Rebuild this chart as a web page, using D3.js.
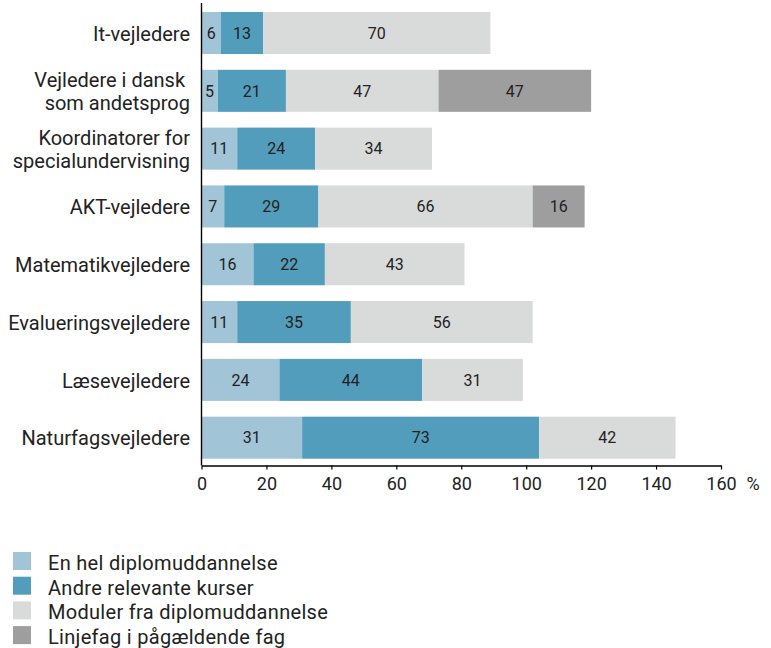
<!DOCTYPE html>
<html>
<head>
<meta charset="utf-8">
<script src="https://cdn.jsdelivr.net/npm/d3@7"></script>
<style>
  html, body { margin: 0; padding: 0; background: #fff; }
  svg { display: block; font-family: Roboto, "DejaVu Sans", sans-serif; }
</style>
</head>
<body>
<svg id="chart" width="771" height="648"></svg>
<script>
// ---- data ----
const categories = [
  "It-vejledere",
  "Vejledere i dansk som andetsprog",
  "Koordinatorer for specialundervisning",
  "AKT-vejledere",
  "Matematikvejledere",
  "Evalueringsvejledere",
  "Læsevejledere",
  "Naturfagsvejledere"
];
const categoryLines = [
  ["It-vejledere"],
  ["Vejledere i dansk ", "som andetsprog"],
  ["Koordinatorer for", "specialundervisning"],
  ["AKT-vejledere"],
  ["Matematikvejledere"],
  ["Evalueringsvejledere"],
  ["Læsevejledere"],
  ["Naturfagsvejledere"]
];
const seriesNames = [
  "En hel diplomuddannelse",
  "Andre relevante kurser",
  "Moduler fra diplomuddannelse",
  "Linjefag i pågældende fag"
];
const helDiplom   = [6, 5, 11, 7, 16, 11, 24, 31];
const andreKurser = [13, 21, 24, 29, 22, 35, 44, 73];
const moduler     = [70, 47, 36, 66, 43, 56, 31, 42];   // bar lengths as drawn
const modulerText = [70, 47, 34, 66, 43, 56, 31, 42];   // printed labels
const linjefag    = [0, 47, 0, 16, 0, 0, 0, 0];
const xTicks = [0, 20, 40, 60, 80, 100, 120, 140, 160];
const colors = ["#a1c4d7", "#529dbb", "#d9dbda", "#9e9e9e"];

// ---- layout ----
const svg = d3.select("#chart");
const x = d3.scaleLinear().domain([0, 160]).range([201.5, 721]);
const y = d3.scaleBand().domain(categories).range([4.1, 466.6])
  .paddingInner(0.273).paddingOuter(0.1365);
const axisY = 465.5;

const values = [helDiplom, andreKurser, moduler, linjefag];
const texts = [helDiplom, andreKurser, modulerText, linjefag];

const rows = categories.map((c, i) => {
  const o = { cat: c };
  seriesNames.forEach((s, k) => o[s] = values[k][i]);
  return o;
});
const stacked = d3.stack().keys(seriesNames)(rows);

stacked.forEach((layer, k) => {
  const g = svg.append("g");
  layer.forEach((d, i) => {
    const v = values[k][i];
    if (!v) return;
    g.append("rect")
      .attr("x", x(d[0]))
      .attr("y", y(categories[i]))
      .attr("width", x(d[1]) - x(d[0]))
      .attr("height", y.bandwidth())
      .attr("fill", colors[k]);
    g.append("text")
      .attr("x", (x(d[0]) + x(d[1])) / 2)
      .attr("y", y(categories[i]) + y.bandwidth() / 2)
      .attr("dy", "0.36em")
      .attr("text-anchor", "middle")
      .attr("font-size", 16)
      .attr("fill", "#222")
      .text(texts[k][i]);
  });
});

// x axis
const xAxis = d3.axisBottom(x).tickValues(xTicks).tickSize(4).tickSizeOuter(0).tickPadding(7.5);
const gx = svg.append("g").attr("transform", `translate(0,${axisY})`).call(xAxis);
gx.select(".domain").attr("stroke", "#000").attr("stroke-width", 1.4);
gx.selectAll(".tick line").attr("stroke", "#000").attr("stroke-width", 1.2);
gx.selectAll(".tick text").attr("font-size", 18).attr("fill", "#222")
  .attr("font-family", "Roboto, sans-serif");
svg.append("text").attr("x", 753).attr("y", 490).attr("text-anchor", "middle")
  .attr("font-size", 18).attr("fill", "#222").text("%");

// y axis line
svg.append("line").attr("x1", x(0)).attr("x2", x(0)).attr("y1", 3).attr("y2", axisY)
  .attr("stroke", "#000").attr("stroke-width", 1.4);

// category labels
const lineH = 23;
categories.forEach((c, i) => {
  const lines = categoryLines[i];
  const cy = y(c) + y.bandwidth() / 2;
  const first = cy + 7.8 - (lines.length - 1) * lineH / 2;
  const t = svg.append("text").attr("text-anchor", "end").attr("font-size", 20)
    .attr("fill", "#222").style("white-space", "pre");
  lines.forEach((ln, j) => {
    t.append("tspan").attr("x", 190).attr("y", first + j * lineH).text(ln);
  });
});

// legend
const legend = svg.append("g");
seriesNames.forEach((s, k) => {
  const ly = 552 + k * 24.7;
  legend.append("rect").attr("x", 13).attr("y", ly).attr("width", 18).attr("height", 18)
    .attr("fill", colors[k]);
  legend.append("text").attr("x", 48).attr("y", ly + 18).attr("font-size", 20)
    .attr("letter-spacing", 0.3)
    .attr("fill", "#222").text(s);
});
</script>
</body>
</html>
